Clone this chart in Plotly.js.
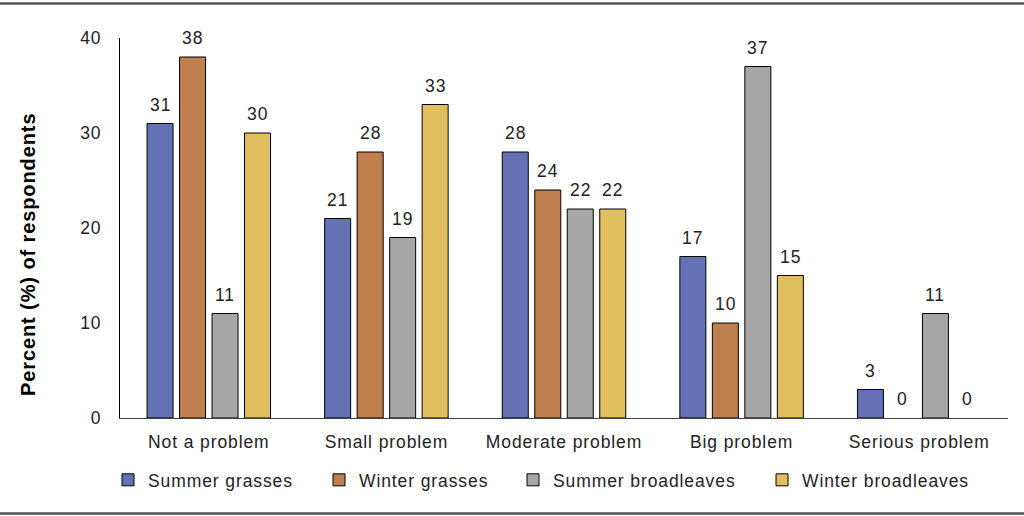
<!DOCTYPE html>
<html>
<head>
<meta charset="utf-8">
<script src="https://cdn.plot.ly/plotly-3.0.1.min.js"></script>
<style>
  html, body { margin: 0; padding: 0; background: #fff; }
  #chart { width: 1024px; height: 516px; }
  /* slightly looser tracking for all chart text */
  svg text { letter-spacing: 0.9px; }
</style>
</head>
<body>
<div id="chart"></div>
<script>
// Survey categories and responses (percent of respondents)
const categories = ['Not a problem', 'Small problem', 'Moderate problem', 'Big problem', 'Serious problem'];
const seriesNames = ['Summer grasses', 'Winter grasses', 'Summer broadleaves', 'Winter broadleaves'];
const summerGrasses = [31, 21, 28, 17, 3];
const winterGrasses = [38, 28, 24, 10, 0];
const summerBroadleaves = [11, 19, 22, 37, 11];
const winterBroadleaves = [30, 33, 22, 15, 0];
const yTickValues = [0, 10, 20, 30, 40];

const seriesValues = [summerGrasses, winterGrasses, summerBroadleaves, winterBroadleaves];
const seriesColors = ['#6571b5', '#bf7f4f', '#a6a6a6', '#dfbf5f'];
const legendIds = ['legend', 'legend2', 'legend3', 'legend4'];
const legendX = [-0.0135, 0.2241, 0.4426, 0.723];

const FONT = 'Liberation Sans, Arial, sans-serif';
const FS = 17.5;
const BARGAP = 0.268;

const traces = seriesValues.map((vals, i) => ({
  type: 'bar',
  name: seriesNames[i],
  x: categories,
  y: vals,
  marker: {
    color: seriesColors[i],
    // no outline on empty (zero) bars
    line: { color: '#000', width: vals.map(v => (v > 0 ? 1 : 0)) }
  },
  legend: legendIds[i],
  hoverinfo: 'x+y+name'
}));

// Value labels above each bar, placed at the bar's group offset
const nSeries = seriesValues.length;
const slot = (1 - BARGAP) / nSeries;
const annotations = [];
seriesValues.forEach((vals, s) => {
  vals.forEach((v, c) => {
    annotations.push({
      xref: 'x', yref: 'y',
      x: c + (s - (nSeries - 1) / 2) * slot,
      y: v,
      text: String(v),
      showarrow: false,
      yanchor: 'bottom',
      yshift: 7,
      font: { family: FONT, size: FS, color: '#222' }
    });
  });
});

// Y axis title
annotations.push({
  xref: 'paper', yref: 'paper',
  x: -0.1036, y: (418 - 255) / 380,
  text: '<b>Percent (%) of respondents</b>',
  textangle: -90,
  showarrow: false,
  xanchor: 'center', yanchor: 'middle',
  font: { family: FONT, size: 20, color: '#000' }
});

const legendBase = {
  orientation: 'h',
  xanchor: 'left',
  yanchor: 'middle',
  y: -0.163,
  bgcolor: 'rgba(0,0,0,0)',
  font: { family: FONT, size: FS, color: '#222' }
};
const layoutLegends = {};
legendIds.forEach((id, i) => {
  layoutLegends[id] = Object.assign({}, legendBase, { x: legendX[i] });
});

const layout = Object.assign({
  width: 1024,
  height: 516,
  margin: { l: 120, r: 16, t: 38, b: 98 },
  paper_bgcolor: '#fff',
  plot_bgcolor: '#fff',
  barmode: 'group',
  bargap: BARGAP,
  bargroupgap: 0.2,
  showlegend: true,
  font: { family: FONT, size: FS, color: '#222' },
  xaxis: {
    type: 'category',
    showgrid: false,
    showline: true,
    linecolor: '#404040',
    linewidth: 1,
    ticks: 'outside',
    ticklen: 8,
    tickcolor: 'rgba(0,0,0,0)',
    tickfont: { family: FONT, size: FS, color: '#222' },
    zeroline: false
  },
  yaxis: {
    range: [0, 40],
    tickvals: yTickValues,
    showgrid: false,
    showline: true,
    linecolor: '#000',
    linewidth: 1,
    ticks: 'outside',
    ticklen: 14,
    tickcolor: 'rgba(0,0,0,0)',
    tickfont: { family: FONT, size: FS, color: '#222' },
    zeroline: false
  },
  annotations: annotations,
  shapes: [
    { type: 'line', xref: 'paper', yref: 'paper', x0: -0.14, x1: 1.02, y0: 1.0908, y1: 1.0908,
      line: { color: '#555', width: 2.5 } },
    { type: 'line', xref: 'paper', yref: 'paper', x0: -0.14, x1: 1.02, y0: -0.2513, y1: -0.2513,
      line: { color: '#555', width: 2.5 } }
  ]
}, layoutLegends);

Plotly.newPlot('chart', traces, layout, { displayModeBar: false, staticPlot: true });
</script>
</body>
</html>
